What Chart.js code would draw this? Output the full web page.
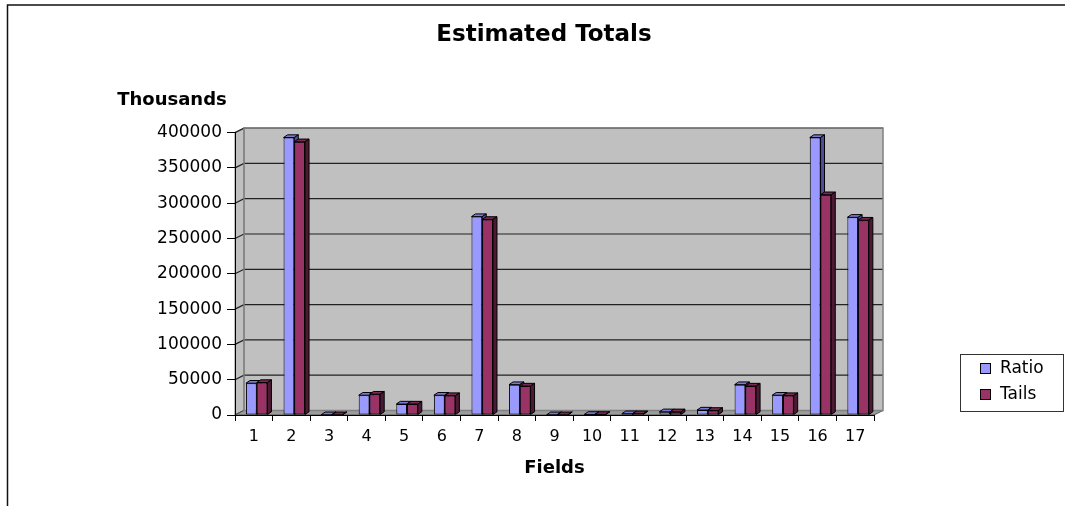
<!DOCTYPE html>
<html>
<head>
<meta charset="utf-8">
<script src="https://cdn.jsdelivr.net/npm/chart.js@4/dist/chart.umd.min.js"></script>
<style>
html,body{margin:0;padding:0;background:#fff;}
#wrap{width:1065px;height:506px;}
</style>
</head>
<body>
<div id="wrap"><canvas id="c" width="1065" height="506"></canvas></div>
<script>
// ---- data ----
const categories = ['1','2','3','4','5','6','7','8','9','10','11','12','13','14','15','16','17'];
const seriesNames = ['Ratio', 'Tails'];
const ratioValues = [45000, 393000, 300, 28000, 15500, 28000, 281000, 43000, 300, 800, 1800, 4500, 7000, 43000, 28000, 393000, 280000];
const tailsValues = [46000, 387000, 300, 29500, 15500, 27500, 277000, 41000, 300, 800, 1800, 4500, 6500, 41000, 27500, 312000, 276000];
const yMin = 0, yMax = 400000, yStep = 50000;
const chartTitle = 'Estimated Totals';
const yUnitLabel = 'Thousands';
const xAxisLabel = 'Fields';

// ---- style ----
const FONT = '"DejaVu Sans", sans-serif';
const WALL = {dx: 9, dy: -4.5};
const BAR_DEPTH = {dx: 4, dy: -2.7};
const BAR_SHIFT = 2.9;
const seriesColors = ['#9999FF', '#993366'];
const faceColors = [{top: '#7b7bd6', side: '#4d4d99'}, {top: '#7a2952', side: '#4d1a33'}];

function drawFaces(ctx, el, col) {
  const {x, y, base, width} = el.getProps(['x', 'y', 'base', 'width'], true);
  const l = x - width / 2, r = x + width / 2;
  const {dx, dy} = BAR_DEPTH;
  ctx.save();
  ctx.strokeStyle = '#000';
  ctx.lineWidth = 1;
  ctx.lineJoin = 'round';
  ctx.beginPath();
  ctx.moveTo(l, y); ctx.lineTo(l + dx, y + dy); ctx.lineTo(r + dx, y + dy); ctx.lineTo(r, y); ctx.closePath();
  ctx.fillStyle = col.top; ctx.fill(); ctx.stroke();
  ctx.beginPath();
  ctx.moveTo(r, y); ctx.lineTo(r + dx, y + dy); ctx.lineTo(r + dx, base + dy); ctx.lineTo(r, base); ctx.closePath();
  ctx.fillStyle = col.side; ctx.fill(); ctx.stroke();
  ctx.restore();
}

const threeD = {
  id: 'threeD',
  beforeDraw(chart) {
    const ctx = chart.ctx, a = chart.chartArea, ys = chart.scales.y;
    const {dx, dy} = WALL;
    ctx.save();
    ctx.fillStyle = '#fff';
    ctx.fillRect(0, 0, chart.width, chart.height);
    // outer frame
    ctx.strokeStyle = '#111'; ctx.lineWidth = 1.5;
    ctx.beginPath(); ctx.moveTo(7.5, chart.height); ctx.lineTo(7.5, 5); ctx.lineTo(chart.width, 5); ctx.stroke();
    // back wall
    ctx.fillStyle = '#c0c0c0';
    ctx.fillRect(a.left + dx, a.top + dy, a.right - a.left, a.bottom - a.top);
    // left wall
    ctx.beginPath();
    ctx.moveTo(a.left, a.top); ctx.lineTo(a.left + dx, a.top + dy); ctx.lineTo(a.left + dx, a.bottom + dy); ctx.lineTo(a.left, a.bottom); ctx.closePath();
    ctx.fill();
    ctx.strokeStyle = '#808080'; ctx.lineWidth = 1; ctx.stroke();
    // gridlines
    ctx.strokeStyle = '#222'; ctx.lineWidth = 1.2;
    ys.ticks.forEach(t => {
      const py = ys.getPixelForValue(t.value);
      ctx.beginPath(); ctx.moveTo(a.left, py); ctx.lineTo(a.left + dx, py + dy); ctx.lineTo(a.right + dx, py + dy); ctx.stroke();
    });
    // floor
    ctx.fillStyle = '#9c9c9c';
    ctx.beginPath();
    ctx.moveTo(a.left, a.bottom); ctx.lineTo(a.right, a.bottom); ctx.lineTo(a.right + dx, a.bottom + dy); ctx.lineTo(a.left + dx, a.bottom + dy); ctx.closePath();
    ctx.fill();
    ctx.strokeStyle = '#555'; ctx.lineWidth = 1; ctx.stroke();
    // wall border
    ctx.strokeStyle = '#808080'; ctx.lineWidth = 1.5;
    ctx.strokeRect(a.left + dx, a.top + dy, a.right - a.left, a.bottom - a.top);
    ctx.restore();
  },
  afterDatasetsUpdate(chart) {
    chart.data.datasets.forEach((d, i) => {
      chart.getDatasetMeta(i).data.forEach(el => { el.x += BAR_SHIFT; });
    });
  },
  afterDatasetsDraw(chart) {
    const ctx = chart.ctx;
    const metas = chart.data.datasets.map((d, i) => chart.getDatasetMeta(i));
    for (let j = 0; j < categories.length; j++) {
      metas.forEach((m, i) => {
        const el = m.data[j];
        if (i > 0) el.draw(ctx);
        drawFaces(ctx, el, faceColors[i]);
      });
    }
  }
};

const extras = {
  id: 'extras',
  afterDraw(chart) {
    const ctx = chart.ctx, a = chart.chartArea;
    ctx.save();
    ctx.fillStyle = '#000';
    ctx.font = 'bold 18px ' + FONT;
    ctx.textAlign = 'center';
    ctx.textBaseline = 'middle';
    ctx.fillText(yUnitLabel, a.left - 63, 100);
    // legend
    const lx = 960, ly = 354, lw = 103, lh = 57;
    ctx.fillStyle = '#fff';
    ctx.fillRect(lx, ly, lw, lh);
    ctx.strokeStyle = '#333'; ctx.lineWidth = 1;
    ctx.strokeRect(lx + 0.5, ly + 0.5, lw, lh);
    ctx.font = '17px ' + FONT;
    ctx.textAlign = 'left';
    chart.data.datasets.forEach((d, i) => {
      const cy = 368 + i * 26;
      ctx.fillStyle = d.backgroundColor;
      ctx.fillRect(980, cy - 5, 10, 10);
      ctx.strokeStyle = '#000';
      ctx.strokeRect(980.5, cy - 4.5, 10, 10);
      ctx.fillStyle = '#000';
      ctx.fillText(d.label, 1000, cy + 1);
    });
    ctx.restore();
  }
};

new Chart(document.getElementById('c'), {
  type: 'bar',
  data: {
    labels: categories,
    datasets: [
      {label: seriesNames[0], data: ratioValues, backgroundColor: seriesColors[0], borderColor: '#000', borderWidth: 1, borderSkipped: false, categoryPercentage: 0.572, barPercentage: 1},
      {label: seriesNames[1], data: tailsValues, backgroundColor: seriesColors[1], borderColor: '#000', borderWidth: 1, borderSkipped: false, categoryPercentage: 0.572, barPercentage: 1}
    ]
  },
  options: {
    responsive: false,
    animation: false,
    devicePixelRatio: 1,
    layout: {padding: {left: 30, right: 7, top: 0, bottom: 23.2}},
    plugins: {
      legend: {display: false},
      tooltip: {enabled: false},
      title: {
        display: true, text: chartTitle, color: '#000',
        font: {family: FONT, size: 23, weight: 'bold'},
        padding: {top: 21, bottom: 84}
      }
    },
    scales: {
      x: {
        grid: {display: true, drawOnChartArea: false, drawTicks: true, tickLength: 6, color: '#000', offset: true},
        border: {display: true, color: '#000', width: 1},
        ticks: {color: '#000', font: {family: FONT, size: 16}, padding: 6, maxRotation: 0, autoSkip: false},
        title: {display: true, text: xAxisLabel, color: '#000', font: {family: FONT, size: 18, weight: 'bold'}, padding: {top: 5, bottom: 4}}
      },
      y: {
        min: yMin, max: yMax,
        ticks: {stepSize: yStep, color: '#000', font: {family: FONT, size: 17}, padding: 5, callback: v => String(v)},
        grid: {drawOnChartArea: false, drawTicks: true, tickLength: 8, color: '#000'},
        border: {display: true, color: '#000', width: 1},
        afterFit(s) { s.width = 205; }
      },
      y2: {
        position: 'right', display: true,
        grid: {display: false}, border: {display: false}, ticks: {display: false},
        afterFit(s) { s.width = 184; }
      }
    }
  },
  plugins: [threeD, extras]
});
</script>
</body>
</html>
